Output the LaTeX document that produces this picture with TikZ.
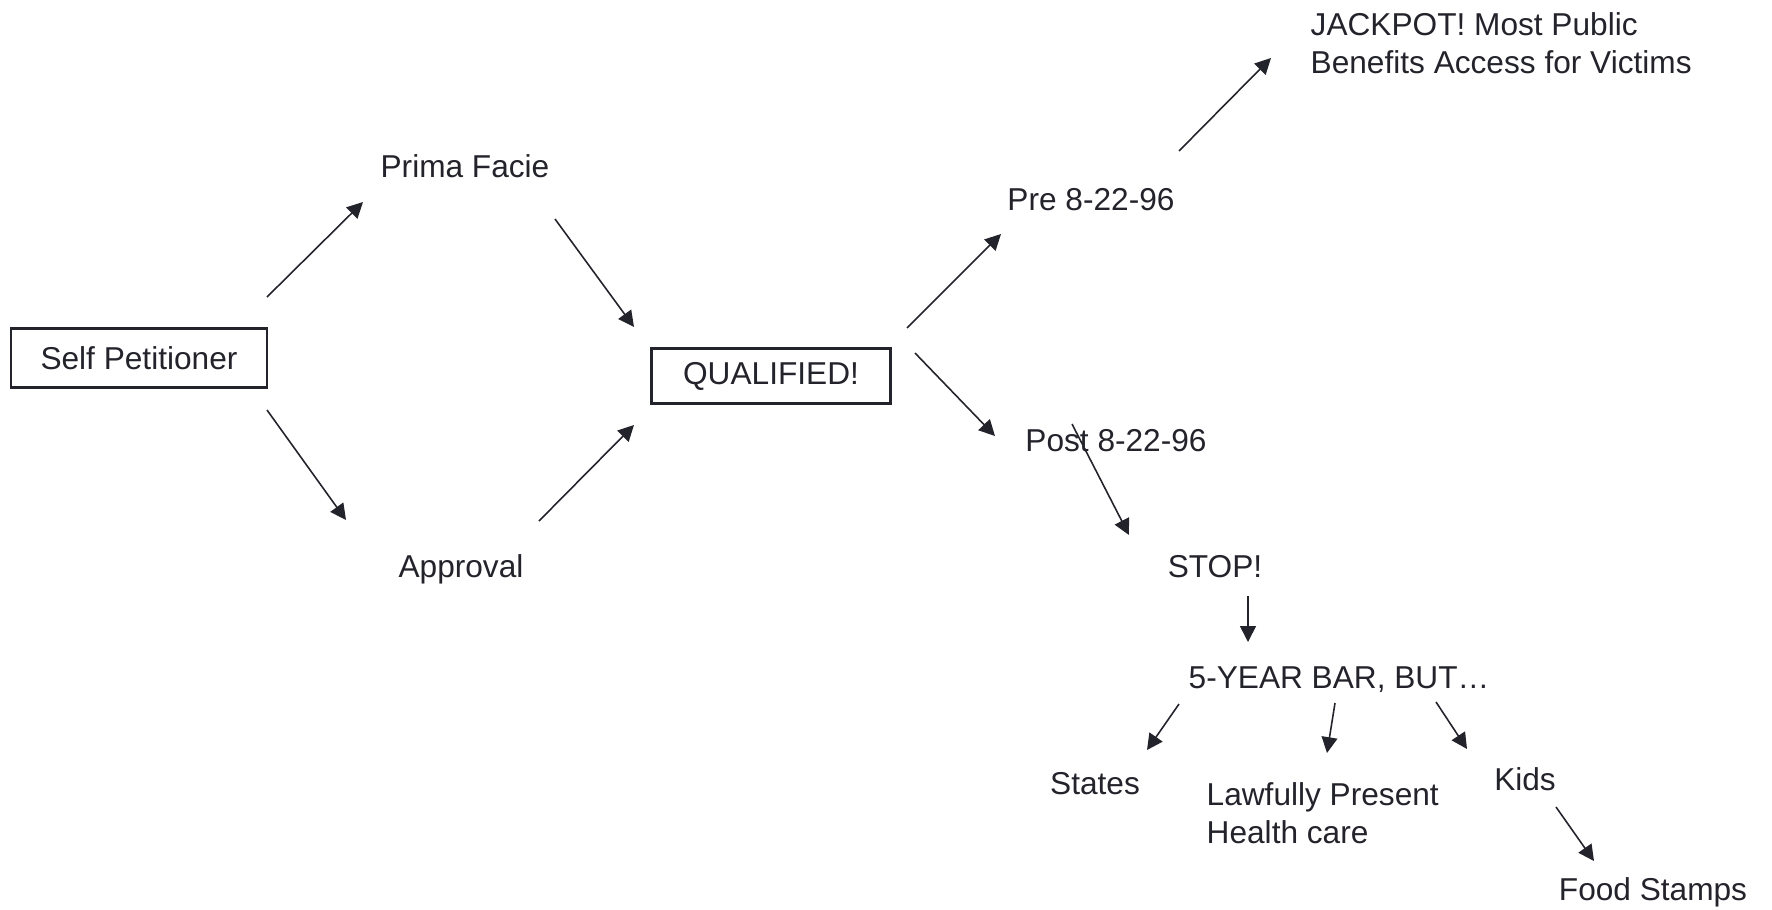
\documentclass[tikz,border=0pt]{standalone}
\usepackage{fontspec}
\setmainfont{Liberation Sans}
\usetikzlibrary{arrows.meta}
\definecolor{ink}{HTML}{23232B}

\begin{document}
\begin{tikzpicture}[
  box/.style={draw=ink, line width=0.6pt, text=ink, inner sep=0pt,
              font=\fontsize{9}{10.8}\selectfont},
  txt/.style={text=ink, inner sep=0pt, text height=6.4pt, text depth=0pt,
              font=\fontsize{9}{10.8}\selectfont},
  note/.style={text=ink, inner sep=0pt, align=left,
               font=\fontsize{9}{10.8}\selectfont},
  arr/.style={draw=ink, line width=0.45pt, -{Triangle[length=4.5pt,width=4.5pt]}},
]
\useasboundingbox (0,0) rectangle (17.72,-9.09);

\node[box, minimum width=2.56cm, minimum height=0.59cm] (sp) at (1.39,-3.58) {Self Petitioner};
\node[txt] (pf)   at (4.65,-1.66) {Prima Facie};
\node[txt] (ap)   at (4.61,-5.66) {Approval};
\node[box, minimum width=2.39cm, minimum height=0.55cm] (qual) at (7.71,-3.76) {QUALIFIED!};
\node[txt] (pre)  at (10.91,-1.99) {Pre 8-22-96};
\node[note, anchor=north west] (jack) at (13.10,-0.12)
  {JACKPOT! Most Public\\Benefits Access for Victims};
\node[txt] (post) at (11.16,-4.40) {Post 8-22-96};
\node[txt] (stop) at (12.15,-5.66) {STOP!};
\node[txt] (bar)  at (13.39,-6.77) {5-YEAR BAR, BUT…};
\node[txt] (st)   at (10.95,-7.83) {States};
\node[note, anchor=north west] (law) at (12.06,-7.82)
  {Lawfully Present\\Health care};
\node[txt] (kids) at (15.25,-7.79) {Kids};
\node[txt] (food) at (16.53,-8.89) {Food Stamps};

% left diamond
\draw[arr] ([shift={(1.28,0.61)}]sp.center) -- ([shift={(-1.02,-0.36)}]pf.center);
\draw[arr] ([shift={(1.28,-0.52)}]sp.center) -- ([shift={(-1.15,0.46)}]ap.center);
\draw[arr] ([shift={(0.90,-0.53)}]pf.center) -- ([shift={(-1.37,0.49)}]qual.center);
\draw[arr] ([shift={(0.78,0.45)}]ap.center) -- ([shift={(-1.37,-0.49)}]qual.center);

% dates
\draw[arr] ([shift={(1.36,0.48)}]qual.center) -- ([shift={(-0.90,-0.35)}]pre.center);
\draw[arr] ([shift={(0.88,0.48)}]pre.center) -- ([shift={(-0.39,-0.46)}]jack.north west);
\draw[arr] ([shift={(1.44,0.23)}]qual.center) -- ([shift={(-1.21,0.04)}]post.center);
\draw[arr] ([shift={(-0.44,0.16)}]post.center) -- ([shift={(-0.86,0.31)}]stop.center);
\draw[arr] ([shift={(0.33,-0.30)}]stop.center) -- ([shift={(-0.91,0.35)}]bar.center);

% exceptions
\draw[arr] ([shift={(-1.60,-0.27)}]bar.center) -- ([shift={(0.52,0.33)}]st.center);
\draw[arr] ([shift={(-0.04,-0.26)}]bar.center) -- ([shift={(1.21,0.29)}]law.north west);
\draw[arr] ([shift={(0.97,-0.25)}]bar.center) -- ([shift={(-0.58,0.30)}]kids.center);
\draw[arr] ([shift={(0.31,-0.28)}]kids.center) -- ([shift={(-0.59,0.28)}]food.center);
\end{tikzpicture}
\end{document}
